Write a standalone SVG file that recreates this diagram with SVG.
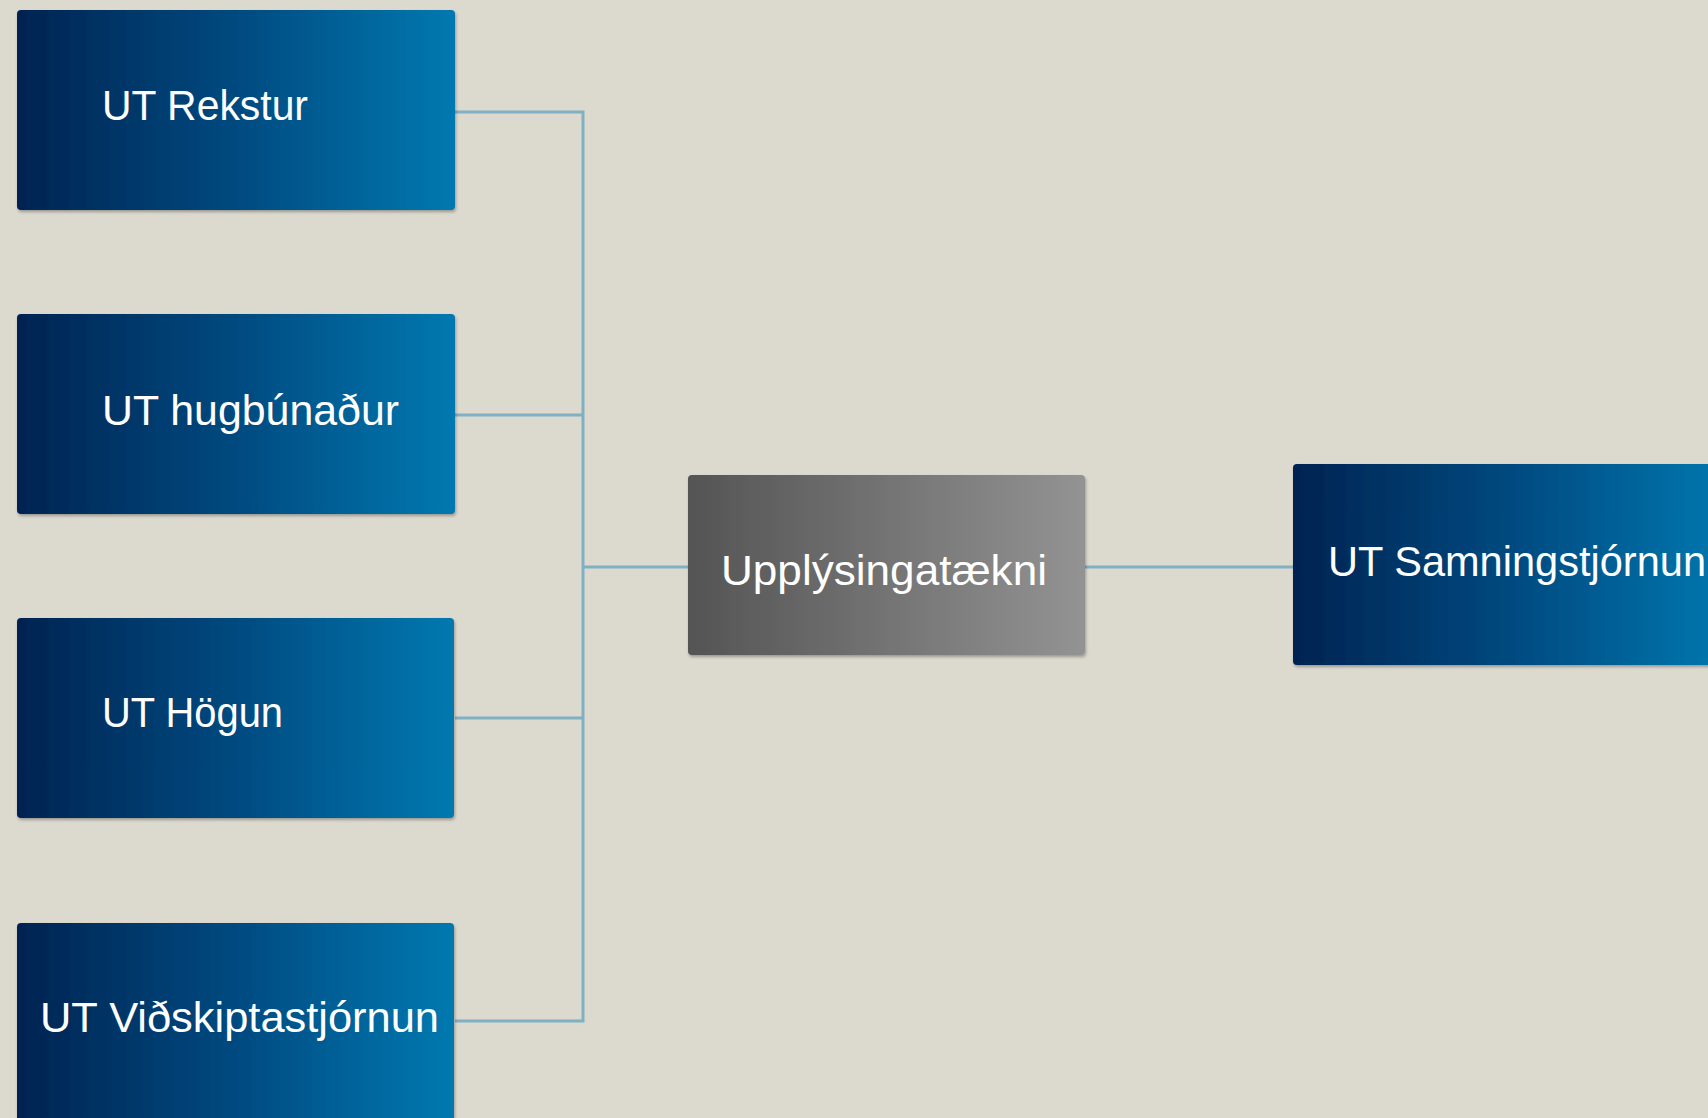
<svg xmlns="http://www.w3.org/2000/svg" width="1708" height="1118" viewBox="0 0 1708 1118">
  <defs>
    <linearGradient id="blue" x1="0" y1="0" x2="1" y2="0">
      <stop offset="0" stop-color="#002352"/>
      <stop offset="0.5" stop-color="#004a80"/>
      <stop offset="1" stop-color="#0079b0"/>
    </linearGradient>
    <linearGradient id="gray" x1="0" y1="0" x2="1" y2="0">
      <stop offset="0" stop-color="#545454"/>
      <stop offset="1" stop-color="#939393"/>
    </linearGradient>
    <filter id="sh" x="-5%" y="-5%" width="110%" height="115%">
      <feDropShadow dx="1" dy="2" stdDeviation="1.5" flood-color="#000" flood-opacity="0.3"/>
    </filter>
  </defs>
  <style>
    .box { fill: url(#blue); filter: url(#sh); }
    .gbox { fill: url(#gray); filter: url(#sh); }
    .lbl { font-family: "Liberation Sans", Arial, sans-serif; font-size: 42px; fill: #ffffff; }
    .c { stroke: #7fb0c3; stroke-width: 3; fill: none; }
  </style>
  <rect width="1708" height="1118" fill="#dcdacf"/>
  <g id="connectors">
    <path class="c" d="M455 112 H583 V1021 H455"/>
    <path class="c" d="M455 415 H583"/>
    <path class="c" d="M455 718 H583"/>
    <path class="c" d="M583 567 H688"/>
    <path class="c" d="M1085 567 H1293"/>
  </g>
  <g id="n-rekstur">
    <rect class="box" x="17" y="10" width="438" height="200" rx="4"/>
    <text class="lbl" x="102" y="120" textLength="206" lengthAdjust="spacingAndGlyphs">UT Rekstur</text>
  </g>
  <g id="n-hugbunadur">
    <rect class="box" x="17" y="314" width="438" height="200" rx="4"/>
    <text class="lbl" x="102" y="425" textLength="297" lengthAdjust="spacingAndGlyphs">UT hugbúnaður</text>
  </g>
  <g id="n-hogun">
    <rect class="box" x="17" y="618" width="437" height="200" rx="4"/>
    <text class="lbl" x="102" y="727" textLength="181" lengthAdjust="spacingAndGlyphs">UT Högun</text>
  </g>
  <g id="n-vidskiptastjornun">
    <rect class="box" x="17" y="923" width="437" height="205" rx="4"/>
    <text class="lbl" x="40" y="1032" textLength="399" lengthAdjust="spacingAndGlyphs">UT Viðskiptastjórnun</text>
  </g>
  <g id="n-upplysingataekni">
    <rect class="gbox" x="688" y="475" width="397" height="180" rx="4"/>
    <text class="lbl" x="721" y="585" textLength="326" lengthAdjust="spacingAndGlyphs">Upplýsingatækni</text>
  </g>
  <g id="n-samningstjornun">
    <rect class="box" x="1293" y="464" width="440" height="201" rx="4"/>
    <text class="lbl" x="1328" y="576" textLength="378" lengthAdjust="spacingAndGlyphs">UT Samningstjórnun</text>
  </g>
</svg>
